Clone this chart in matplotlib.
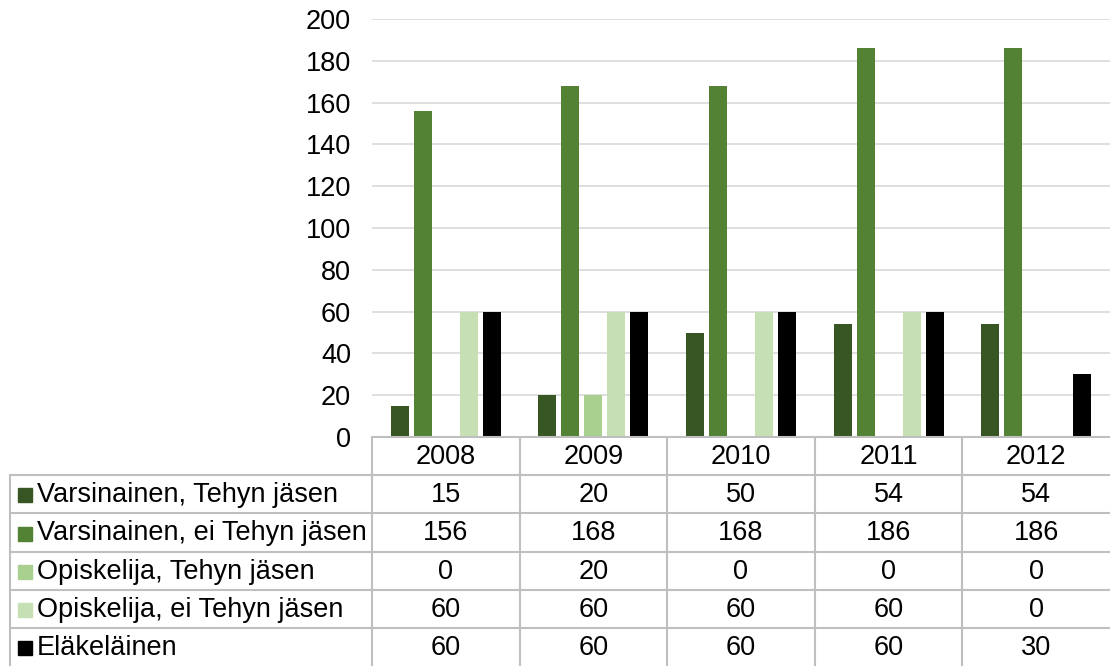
import numpy as np
import matplotlib
matplotlib.use('Agg')
import matplotlib.pyplot as plt

plt.rcParams['font.family'] = ['Liberation Sans', 'DejaVu Sans']

years = ['2008', '2009', '2010', '2011', '2012']
series = ['Varsinainen, Tehyn jäsen', 'Varsinainen, ei Tehyn jäsen',
          'Opiskelija, Tehyn jäsen', 'Opiskelija, ei Tehyn jäsen', 'Eläkeläinen']
varsinainen_tehy = [15, 20, 50, 54, 54]
varsinainen_ei = [156, 168, 168, 186, 186]
opiskelija_tehy = [0, 20, 0, 0, 0]
opiskelija_ei = [60, 60, 60, 60, 0]
elakelainen = [60, 60, 60, 60, 30]
values = [varsinainen_tehy, varsinainen_ei, opiskelija_tehy, opiskelija_ei, elakelainen]
colors = ['#375623', '#548235', '#a9d08e', '#c6e0b4', '#000000']

W, H = 1110, 666
FS = 19.5
fig = plt.figure(figsize=(W / 100, H / 100), dpi=100)

# plot area in pixels
px_left, px_right, px_top, px_bottom = 372, 1110, 19, 437
col_w = (px_right - px_left) / len(years)
ax = fig.add_axes([px_left / W, 1 - px_bottom / H,
                   (px_right - px_left) / W, (px_bottom - px_top) / H])

x = np.arange(len(years))
step = 23 / col_w
width = 18 / col_w
for i, (vals, c) in enumerate(zip(values, colors)):
    ax.bar(x + (i - 2) * step, vals, width, color=c, zorder=3)

ax.set_xlim(-0.5, len(years) - 0.5)
ax.set_ylim(0, 200)
ax.set_yticks(range(0, 201, 20))
ax.yaxis.grid(True, color='#d9d9d9', linewidth=1.2, zorder=0)
ax.set_xticks([])
for s in ax.spines.values():
    s.set_visible(False)
ax.tick_params(axis='y', length=0, pad=15, labelsize=FS)

# data table drawn in pixel coordinates
ov = fig.add_axes([0, 0, 1, 1])
ov.set_xlim(0, W)
ov.set_ylim(H, 0)
ov.axis('off')
ov.patch.set_alpha(0)

border = '#bfbfbf'
lw = 1.5
row_h = 38.2
header_top = px_bottom
rows_top = header_top + row_h
table_left = 10

# horizontal lines
ov.plot([px_left, px_right], [header_top, header_top], color=border, lw=lw)
for r in range(len(series) + 1):
    yy = rows_top + r * row_h
    if yy < H:
        ov.plot([table_left, px_right], [yy, yy], color=border, lw=lw)
# vertical lines
ov.plot([table_left, table_left], [rows_top, H], color=border, lw=lw)
for j in range(len(years)):
    xx = px_left + j * col_w
    ov.plot([xx, xx], [header_top, H], color=border, lw=lw)

for j, yr in enumerate(years):
    ov.text(px_left + (j + 0.5) * col_w, header_top + row_h / 2 + 1, yr,
            ha='center', va='center', fontsize=FS)

for r, (name, vals, c) in enumerate(zip(series, values, colors)):
    yc = rows_top + (r + 0.5) * row_h + 1
    ov.add_patch(plt.Rectangle((18, yc - 7), 14, 14, color=c))
    ov.text(37, yc, name, ha='left', va='center', fontsize=FS)
    for j, v in enumerate(vals):
        ov.text(px_left + (j + 0.5) * col_w, yc, str(v),
                ha='center', va='center', fontsize=FS)

fig.savefig('out.png', dpi=100)
